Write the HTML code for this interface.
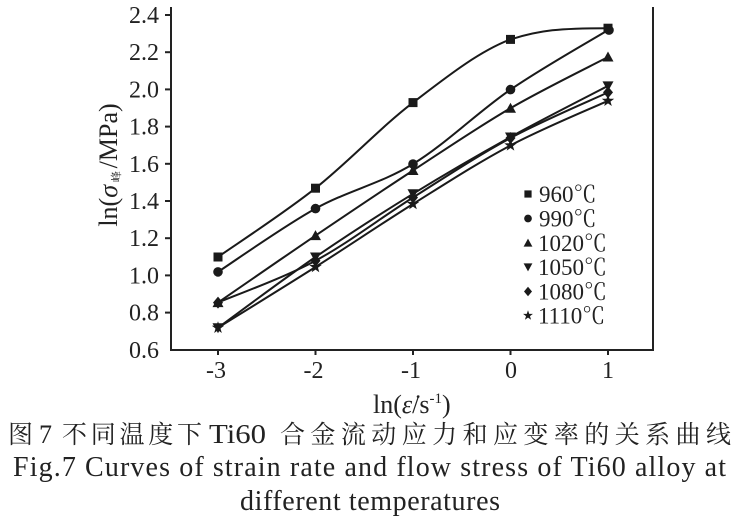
<!DOCTYPE html>
<html><head><meta charset="utf-8"><style>
html,body{margin:0;padding:0;background:#fff;}
svg{display:block;}
.ser{font-family:"Liberation Serif","Noto Serif CJK SC",serif;}
.cjk{font-family:"Noto Serif CJK SC","Liberation Serif",serif;}
</style></head><body>
<svg width="744" height="521" viewBox="0 0 744 521" xmlns="http://www.w3.org/2000/svg">
<defs>
<rect id="sq" x="-4.5" y="-4.5" width="9" height="9"/>
<circle id="ci" r="4.8"/>
<polygon id="tu" points="0,-5.5 5.5,4.5 -5.5,4.5"/>
<polygon id="td" points="-5.5,-4.5 5.5,-4.5 0,5.5"/>
<polygon id="di" points="0,-6 5,0 0,6 -5,0"/>
<polygon id="st" points="0,-6.5 1.53,-2.1 6.18,-2.01 2.47,0.8 3.82,5.26 0,2.6 -3.82,5.26 -2.47,0.8 -6.18,-2.01 -1.53,-2.1"/>
</defs>
<rect width="744" height="521" fill="#fff"/>
<g stroke="#222" stroke-width="2" fill="none">
<line x1="171" y1="7" x2="171" y2="351"/>
<line x1="653" y1="7" x2="653" y2="351"/>
<line x1="170" y1="350" x2="654" y2="350"/>
<line x1="165" y1="15" x2="171" y2="15"/>
<line x1="165" y1="52.2" x2="171" y2="52.2"/>
<line x1="165" y1="89.4" x2="171" y2="89.4"/>
<line x1="165" y1="126.6" x2="171" y2="126.6"/>
<line x1="165" y1="163.8" x2="171" y2="163.8"/>
<line x1="165" y1="201" x2="171" y2="201"/>
<line x1="165" y1="238.2" x2="171" y2="238.2"/>
<line x1="165" y1="275.4" x2="171" y2="275.4"/>
<line x1="165" y1="312.6" x2="171" y2="312.6"/>
<line x1="218" y1="350" x2="218" y2="355"/>
<line x1="315.5" y1="350" x2="315.5" y2="355"/>
<line x1="413" y1="350" x2="413" y2="355"/>
<line x1="510.5" y1="350" x2="510.5" y2="355"/>
<line x1="608" y1="350" x2="608" y2="355"/>
</g>
<g class="ser" style="font-size:24px" fill="#222" text-anchor="end">
<text x="159" y="23">2.4</text>
<text x="159" y="60.2">2.2</text>
<text x="159" y="97.4">2.0</text>
<text x="159" y="134.6">1.8</text>
<text x="159" y="171.8">1.6</text>
<text x="159" y="209">1.4</text>
<text x="159" y="246.2">1.2</text>
<text x="159" y="283.4">1.0</text>
<text x="159" y="320.6">0.8</text>
<text x="159" y="358">0.6</text>
</g>
<g class="ser" style="font-size:24px" fill="#222" text-anchor="middle">
<text x="216" y="378">-3</text>
<text x="313.5" y="378">-2</text>
<text x="411" y="378">-1</text>
<text x="511" y="378">0</text>
<text x="608" y="378">1</text>
</g>
<text transform="translate(117,165) rotate(-90)" class="ser" style="font-size:26px" fill="#222" text-anchor="middle">ln(<tspan font-style="italic">σ</tspan><tspan class="cjk" style="font-size:11px" dy="3"> 峰 </tspan><tspan dy="-3">/MPa)</tspan></text>
<g stroke="#1a1a1a" stroke-width="2" fill="none">
<path d="M218,257 C234.25,245.5 283,213.9 315.5,188.2 C348,162.5 380.5,127.4 413,102.6 C445.5,77.8 478,51.8 510.5,39.4 C540,30 560,28.2 608,28.2"/>
<path d="M218,271.9 C234.25,261.35 283,226.6 315.5,208.6 C348,190.6 380.5,183.8 413,164 C445.5,144.2 478,111.9 510.5,89.6 C543,67.3 591.75,40 608,30.1"/>
<path d="M218,302.6 C234.25,291.4 283,257.6 315.5,235.6 C348,213.6 380.5,191.7 413,170.5 C445.5,149.3 478,127.1 510.5,108.2 C543,89.3 591.75,65.6 608,57.05"/>
<path d="M218,327.7 C234.25,315.9 283,279.3 315.5,257 C348,234.7 380.5,213.8 413,193.8 C445.5,173.8 478,155 510.5,137 C543,119 591.75,94.4 608,85.9"/>
<path d="M218,302.6 C234.25,295.6 283,278.2 315.5,260.7 C348,243.2 380.5,218 413,197.5 C445.5,177 478,155.5 510.5,138 C543,120.5 591.75,100 608,92.4"/>
<path d="M218,327.7 C234.25,317.6 283,287.6 315.5,267 C348,246.4 380.5,224.3 413,204 C445.5,183.7 478,162.6 510.5,145.4 C543,128.2 591.75,108.2 608,100.8"/>
</g>
<g fill="#1a1a1a">
<use href="#sq" x="218" y="257"/><use href="#sq" x="315.5" y="188.2"/><use href="#sq" x="413" y="102.6"/><use href="#sq" x="510.5" y="39.4"/><use href="#sq" x="608" y="28.2"/>
<use href="#ci" x="218" y="271.9"/><use href="#ci" x="315.5" y="208.6"/><use href="#ci" x="413" y="164"/><use href="#ci" x="510.5" y="89.6"/><use href="#ci" x="609" y="30.1"/>
<use href="#tu" x="218" y="302.6"/><use href="#tu" x="315.5" y="235.6"/><use href="#tu" x="413" y="170.5"/><use href="#tu" x="510.5" y="108.2"/><use href="#tu" x="608" y="57.05"/>
<use href="#td" x="218" y="327.7"/><use href="#td" x="315.5" y="257"/><use href="#td" x="413" y="193.8"/><use href="#td" x="510.5" y="137"/><use href="#td" x="608" y="85.9"/>
<use href="#di" x="218" y="302.6"/><use href="#di" x="315.5" y="260.7"/><use href="#di" x="413" y="197.5"/><use href="#di" x="510.5" y="138"/><use href="#di" x="608" y="92.4"/>
<use href="#st" x="218" y="327.7"/><use href="#st" x="315.5" y="267"/><use href="#st" x="413" y="204"/><use href="#st" x="510.5" y="145.4"/><use href="#st" x="608" y="100.8"/>
</g>
<g fill="#1a1a1a">
<g transform="translate(528,194) scale(0.8)"><use href="#sq"/></g>
<g transform="translate(528,218.5) scale(0.8)"><use href="#ci"/></g>
<g transform="translate(528,243) scale(0.8)"><use href="#tu"/></g>
<g transform="translate(528,267) scale(0.8)"><use href="#td"/></g>
<g transform="translate(528,291.5) scale(0.8)"><use href="#di"/></g>
<g transform="translate(528,315.5) scale(0.8)"><use href="#st"/></g>
</g>
<g class="ser" style="font-size:23px" fill="#222">
<text x="539" y="202">960℃</text>
<text x="539" y="226.5">990℃</text>
<text x="538" y="251">1020℃</text>
<text x="538" y="275">1050℃</text>
<text x="538" y="299.5">1080℃</text>
<text x="538" y="323.5">1110℃</text>
</g>
<text x="373" y="413" class="ser" style="font-size:26px" fill="#222">ln(<tspan font-style="italic">ε̇</tspan>/s<tspan style="font-size:15px" dy="-10">-1</tspan><tspan dy="10">)</tspan></text>
<g fill="#222">
<text x="8" y="443" class="cjk" style="font-size:25px">图</text>
<text x="39" y="443" class="ser" style="font-size:26px">7</text>
<text x="62" y="443" class="cjk" style="font-size:25px" textLength="140" lengthAdjust="spacing">不同温度下</text>
<text x="209" y="443" class="ser" style="font-size:27px" textLength="57" lengthAdjust="spacingAndGlyphs">Ti60</text>
<text x="280" y="443" class="cjk" style="font-size:25px" textLength="451" lengthAdjust="spacing">合金流动应力和应变率的关系曲线</text>
</g>
<text x="13" y="476" textLength="713" lengthAdjust="spacing" class="ser" style="font-size:28px" fill="#222">Fig.7  Curves of strain rate and flow stress of Ti60 alloy at</text>
<text x="240" y="510" textLength="260" lengthAdjust="spacing" class="ser" style="font-size:28px" fill="#222">different temperatures</text>
</svg>
</body></html>
